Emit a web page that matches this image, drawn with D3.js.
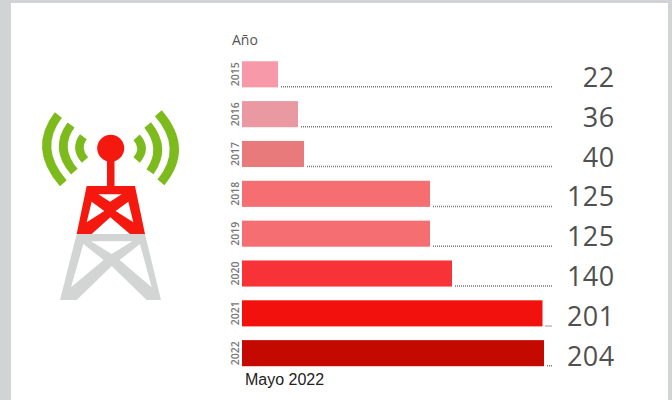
<!DOCTYPE html>
<html>
<head>
<meta charset="utf-8">
<script src="https://cdn.jsdelivr.net/npm/d3@7"></script>
<style>
  html, body { margin: 0; padding: 0; background: #fff; }
  svg { display: block; }
</style>
</head>
<body>
<script>
let w = 672;
let h = 400;

let years = ['2015', '2016', '2017', '2018', '2019', '2020', '2021', '2022'];
let counts = [22, 36, 40, 125, 125, 140, 201, 204];

// the bars in the picture are not quite proportional, so the scale has a few stops
let xScale = d3.scaleLinear()
  .domain([0, 22, 36, 40, 125, 140, 201, 204])
  .range([242, 278, 298, 304, 430, 452, 542.5, 544]);

let yScale = d3.scaleBand()
  .domain(years)
  .range([54.5, 373])
  .paddingInner(0.345)
  .paddingOuter(0.17);

let colorScale = d3.scaleOrdinal()
  .domain(years)
  .range(['#f799a8', '#ea99a2', '#e87a7c', '#f56f72', '#f56f72', '#f73338', '#f2110c', '#c40a00']);

let svg = d3.select('body')
  .append('svg')
  .attr('width', w)
  .attr('height', h);

// grey frame
svg.append('rect')
  .attr('width', w)
  .attr('height', h)
  .attr('fill', '#d0d4d4');

svg.append('rect')
  .attr('x', 11)
  .attr('y', 3)
  .attr('width', 657)
  .attr('height', h - 3)
  .attr('fill', '#fff');

// antenna icon
let waves = svg.append('g')
  .attr('transform', 'translate(35, 105) scale(0.3333)')
  .attr('fill', 'none')
  .attr('stroke', '#7dbb1c');

let wavePaths = [
  ['M70,30 Q-7,130 85,235', 27],
  ['M108,60 Q57,130 118,200', 26],
  ['M145,95 Q119,130 150,165', 25],
  ['M370,25 Q462,130 378,232', 27],
  ['M338,60 Q395,130 345,200', 26],
  ['M305,97 Q335,130 305,165', 25]
];

waves.selectAll('path')
  .data(wavePaths)
  .enter()
  .append('path')
  .attr('d', (d) => { return d[0]; })
  .attr('stroke-width', (d) => { return d[1]; });

let tower = svg.append('g')
  .attr('transform', 'translate(55, 180) scale(0.3333)');

tower.append('path')
  .attr('fill-rule', 'evenodd')
  .attr('fill', '#d3d5d5')
  .attr('d', 'M65,162 L270,162 L318,360 L15,360 Z'
    + ' M108,184 L232,184 L170,222 Z'
    + ' M85,192 L146,240 L48,322 Z'
    + ' M255,192 L194,240 L290,322 Z'
    + ' M170,258 L65,360 L275,360 Z');

tower.append('path')
  .attr('fill-rule', 'evenodd')
  .attr('fill', '#f5180f')
  .attr('d', 'M95,18 L240,18 L270,162 L65,162 Z'
    + ' M130,43 L200,43 L165,65 Z'
    + ' M110,65 L148,93 L95,127 Z'
    + ' M220,65 L182,93 L235,127 Z'
    + ' M166,112 L110,162 L225,162 Z');

svg.append('rect')
  .attr('x', 107)
  .attr('y', 150)
  .attr('width', 7.5)
  .attr('height', 37)
  .attr('fill', '#f5180f');

svg.append('circle')
  .attr('cx', 110.7)
  .attr('cy', 148.3)
  .attr('r', 13.5)
  .attr('fill', '#f5180f');

// bars
let rows = svg.selectAll('g.row')
  .data(years)
  .enter()
  .append('g')
  .attr('class', 'row');

rows.append('rect')
  .attr('x', xScale(0))
  .attr('y', (d) => { return yScale(d); })
  .attr('width', (d, i) => { return xScale(counts[i]) - xScale(0); })
  .attr('height', yScale.bandwidth())
  .attr('fill', (d) => { return colorScale(d); });

rows.append('line')
  .attr('x1', (d, i) => { return xScale(counts[i]) + 3; })
  .attr('x2', 552)
  .attr('y1', (d) => { return yScale(d) + yScale.bandwidth() - 0.5; })
  .attr('y2', (d) => { return yScale(d) + yScale.bandwidth() - 0.5; })
  .attr('stroke', '#777')
  .attr('stroke-width', 1.5)
  .attr('stroke-dasharray', '1 1');

rows.append('text')
  .text((d) => { return d; })
  .attr('transform', (d) => { return 'translate(239, ' + (yScale(d) + yScale.bandwidth() / 2) + ') rotate(-90)'; })
  .attr('text-anchor', 'middle')
  .attr('font-family', 'Open Sans')
  .attr('font-size', '10.5px')
  .attr('font-weight', 600)
  .attr('fill', '#777');

rows.append('text')
  .text((d, i) => { return counts[i]; })
  .attr('x', 614.5)
  .attr('y', (d) => { return yScale(d) + yScale.bandwidth() - 0.5; })
  .attr('text-anchor', 'end')
  .attr('font-family', 'Open Sans')
  .attr('font-size', '27px')
  .attr('letter-spacing', '0.4px')
  .attr('fill', '#505050');

svg.append('text')
  .text('Año')
  .attr('x', 232)
  .attr('y', 44.5)
  .attr('font-family', 'Open Sans')
  .attr('font-size', '14px')
  .attr('fill', '#555');

svg.append('text')
  .text('Mayo 2022')
  .attr('x', 245)
  .attr('y', 385)
  .attr('font-family', 'Liberation Sans')
  .attr('font-size', '16px')
  .attr('fill', '#222');
</script>
</body>
</html>
